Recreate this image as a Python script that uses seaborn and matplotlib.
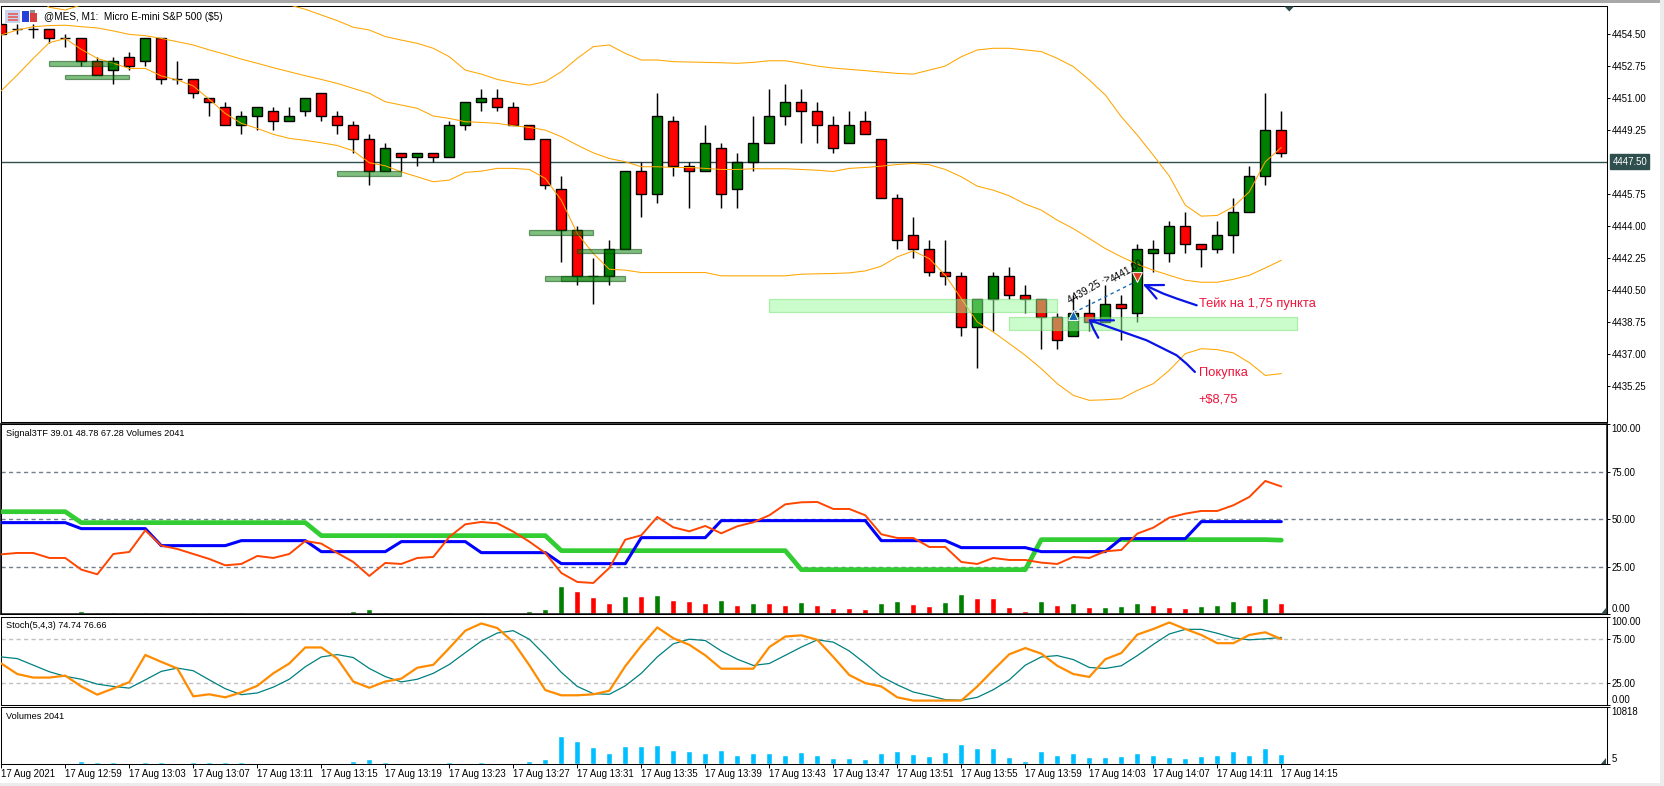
import matplotlib

matplotlib.use("Agg")

import matplotlib.pyplot as plt
import numpy as np
import seaborn as sns
from matplotlib.patches import Polygon, Rectangle

# one entry per M1 bar
OPENS = [
    4455.00, 4454.75, 4454.75, 4454.75, 4454.25, 4454.25, 4453.00, 4452.50, 4453.25, 4453.00,
    4454.25, 4452.00, 4452.00, 4451.00, 4450.50, 4449.50, 4450.00, 4450.25, 4449.75, 4450.25,
    4451.25, 4450.00, 4449.50, 4448.75, 4447.00, 4448.00, 4447.75, 4448.00, 4447.75, 4449.50,
    4450.75, 4451.00, 4450.50, 4449.50, 4448.75, 4446.00, 4443.75, 4441.25, 4441.25, 4442.75,
    4447.00, 4445.75, 4449.75, 4447.25, 4447.00, 4448.25, 4446.00, 4447.50, 4448.50, 4450.00,
    4450.75, 4450.25, 4449.50, 4448.50, 4449.75, 4448.75, 4445.50, 4443.50, 4442.75, 4441.50,
    4441.25, 4438.50, 4440.00, 4441.25, 4440.25, 4440.00, 4439.00, 4438.00, 4439.25, 4438.75,
    4439.75, 4439.25, 4442.50, 4442.50, 4444.00, 4443.00, 4442.75, 4443.50, 4444.75, 4446.75,
    4449.25,
]
HIGHS = [
    4455.00, 4455.00, 4455.00, 4454.75, 4454.50, 4454.25, 4453.25, 4453.25, 4453.50, 4454.25,
    4454.25, 4453.00, 4452.00, 4451.00, 4450.75, 4450.25, 4450.50, 4450.50, 4450.50, 4451.00,
    4451.25, 4450.25, 4449.75, 4449.00, 4448.50, 4448.00, 4448.00, 4448.00, 4449.75, 4450.75,
    4451.50, 4451.50, 4450.75, 4449.50, 4448.75, 4446.75, 4444.00, 4442.25, 4443.25, 4447.00,
    4447.50, 4451.25, 4450.00, 4447.50, 4449.50, 4448.50, 4448.00, 4450.00, 4451.50, 4451.75,
    4451.50, 4450.75, 4450.00, 4450.25, 4450.25, 4448.75, 4445.75, 4444.50, 4443.25, 4443.25,
    4441.50, 4440.00, 4441.50, 4441.75, 4440.75, 4440.00, 4439.25, 4440.25, 4440.00, 4440.75,
    4440.25, 4443.00, 4443.25, 4444.25, 4444.75, 4443.00, 4444.25, 4445.50, 4447.25, 4451.25,
    4450.25,
]
LOWS = [
    4454.50, 4454.50, 4454.25, 4454.00, 4453.75, 4452.75, 4452.25, 4451.75, 4452.50, 4452.75,
    4451.75, 4451.75, 4451.00, 4450.00, 4449.50, 4449.00, 4449.25, 4449.25, 4449.75, 4450.00,
    4449.75, 4449.00, 4448.00, 4446.25, 4447.00, 4447.00, 4447.25, 4447.50, 4447.75, 4449.25,
    4450.25, 4450.25, 4449.50, 4448.75, 4446.00, 4442.00, 4440.75, 4439.75, 4440.75, 4442.75,
    4444.50, 4445.25, 4446.75, 4445.00, 4447.00, 4445.00, 4445.00, 4447.00, 4448.50, 4449.50,
    4448.50, 4448.50, 4448.00, 4448.50, 4449.00, 4445.50, 4442.75, 4442.25, 4441.25, 4440.75,
    4438.00, 4436.25, 4438.25, 4440.00, 4439.25, 4437.25, 4437.25, 4438.00, 4438.25, 4438.75,
    4437.75, 4438.75, 4441.50, 4442.00, 4442.50, 4441.75, 4442.50, 4442.50, 4444.75, 4446.25,
    4447.75,
]
CLOSES = [
    4454.50, 4454.75, 4454.75, 4454.25, 4454.25, 4453.00, 4452.25, 4453.00, 4452.75, 4454.25,
    4452.00, 4452.00, 4451.25, 4450.75, 4449.50, 4450.00, 4450.50, 4449.75, 4450.00, 4451.00,
    4450.00, 4449.50, 4448.75, 4447.00, 4448.25, 4447.75, 4448.00, 4447.75, 4449.50, 4450.75,
    4451.00, 4450.50, 4449.50, 4448.75, 4446.25, 4443.75, 4441.25, 4441.25, 4442.75, 4447.00,
    4445.75, 4450.00, 4447.25, 4447.00, 4448.50, 4445.75, 4447.50, 4448.50, 4450.00, 4450.75,
    4450.25, 4449.50, 4448.25, 4449.50, 4449.00, 4445.50, 4443.25, 4442.75, 4441.50, 4441.25,
    4438.50, 4440.00, 4441.25, 4440.25, 4440.00, 4439.00, 4437.75, 4439.25, 4438.75, 4439.75,
    4439.50, 4442.75, 4442.75, 4444.00, 4443.00, 4442.75, 4443.50, 4444.75, 4446.75, 4449.25,
    4448.00,
]

BAND_UPPER = [
    4458.00, 4457.30, 4456.60, 4455.94, 4455.79, 4456.07, 4456.50, 4456.90, 4457.10, 4457.20,
    4457.30, 4457.40, 4457.40, 4457.30, 4457.20, 4457.00, 4456.80, 4456.50, 4456.07, 4455.83,
    4455.52, 4455.21, 4454.85, 4454.70, 4454.34, 4454.15, 4453.97, 4453.70, 4453.24, 4452.51,
    4452.29, 4452.00, 4451.82, 4451.69, 4451.88, 4452.42, 4453.15, 4453.79, 4453.88, 4453.42,
    4453.06, 4453.06, 4452.97, 4452.95, 4452.93, 4452.91, 4452.88, 4452.93, 4453.02, 4453.02,
    4452.88, 4452.73, 4452.62, 4452.55, 4452.48, 4452.40, 4452.33, 4452.29, 4452.51, 4452.73,
    4453.24, 4453.61, 4453.70, 4453.70, 4453.61, 4453.52, 4453.15, 4452.70, 4451.97, 4451.15,
    4449.96, 4448.96, 4447.86, 4446.72, 4445.13, 4444.53, 4444.57, 4445.04, 4445.86, 4447.50,
    4448.28,
]
BAND_MIDDLE = [
    4454.43, 4454.70, 4454.88, 4454.94, 4454.96, 4454.88, 4454.81, 4454.65, 4454.46, 4454.39,
    4454.24, 4454.06, 4453.88, 4453.61, 4453.37, 4453.11, 4452.88, 4452.64, 4452.42, 4452.20,
    4452.00, 4451.78, 4451.51, 4451.24, 4450.78, 4450.60, 4450.42, 4450.00, 4449.87, 4449.69,
    4449.65, 4449.60, 4449.47, 4449.38, 4449.23, 4448.87, 4448.41, 4447.99, 4447.68, 4447.50,
    4447.23, 4447.23, 4447.19, 4447.19, 4447.14, 4447.08, 4447.08, 4447.12, 4447.12, 4447.12,
    4447.08, 4447.04, 4446.97, 4447.14, 4447.19, 4447.26, 4447.35, 4447.41, 4447.34, 4447.08,
    4446.68, 4446.17, 4445.95, 4445.64, 4445.19, 4444.86, 4444.31, 4443.85, 4443.31, 4442.76,
    4442.31, 4441.90, 4441.58, 4441.30, 4441.03, 4440.92, 4440.92, 4441.08, 4441.30, 4441.70,
    4442.12,
]
BAND_LOWER = [
    4451.38, 4452.24, 4453.15, 4454.01, 4454.23, 4453.64, 4453.15, 4452.88, 4452.60, 4452.60,
    4452.19, 4451.97, 4451.64, 4450.91, 4450.14, 4449.60, 4449.32, 4449.00, 4448.78, 4448.67,
    4448.54, 4448.39, 4448.10, 4447.45, 4447.28, 4446.95, 4446.68, 4446.41, 4446.50, 4446.92,
    4446.99, 4447.14, 4447.14, 4447.08, 4446.59, 4445.40, 4443.58, 4442.49, 4441.63, 4441.58,
    4441.45, 4441.45, 4441.45, 4441.45, 4441.45, 4441.27, 4441.27, 4441.27, 4441.27, 4441.27,
    4441.36, 4441.38, 4441.40, 4441.43, 4441.54, 4441.80, 4442.31, 4442.63, 4442.21, 4441.30,
    4440.03, 4438.75, 4438.20, 4437.57, 4436.93, 4436.20, 4435.38, 4434.74, 4434.47, 4434.50,
    4434.56, 4435.01, 4435.38, 4436.11, 4437.02, 4437.29, 4437.24, 4437.06, 4436.53, 4435.83,
    4435.93,
]

SIGNAL_SLOW = [54.0] * 5 + [48.25] * 15 + [41.4] * 15 + [33.5] * 15 + [23.5] * 15 + [39.3] * 15 + [39.01]
SIGNAL_MID = (
    [48.25] * 5 + [45.09] * 5 + [36.14] * 5 + [38.77] * 5 + [32.98] * 5 + [38.25] * 5 + [32.46] * 5
    + [26.67] * 5 + [40.35] * 5 + [49.3] * 10 + [38.77] * 5 + [35.09] * 5 + [32.98] * 5 + [39.82] * 5
    + [48.78] * 6
)
SIGNAL_FAST = [
    31.58, 32.28, 32.28, 29.65, 29.65, 23.51, 21.05, 31.75, 32.81, 44.21,
    36.14, 34.39, 31.75, 29.12, 25.79, 26.49, 30.70, 29.65, 31.75, 38.60,
    37.19, 32.28, 27.54, 20.18, 27.02, 26.49, 29.65, 30.18, 40.70, 47.37,
    48.60, 47.89, 43.51, 38.25, 32.28, 21.75, 17.02, 16.49, 24.39, 39.30,
    41.58, 51.23, 45.79, 43.68, 46.49, 42.63, 46.32, 48.42, 52.11, 57.89,
    58.95, 59.12, 55.44, 55.44, 52.11, 42.11, 40.18, 40.18, 35.44, 35.44,
    27.54, 26.49, 29.65, 28.60, 28.60, 27.19, 26.49, 30.18, 29.65, 33.16,
    33.86, 42.46, 45.61, 50.88, 52.98, 54.39, 54.39, 57.37, 61.75, 70.18,
    67.28,
]

STOCH_MAIN = [
    47.2, 35.3, 31.3, 31.3, 33.5, 21.3, 12.0, 19.0, 26.1, 56.8,
    49.0, 41.6, 10.1, 12.4, 9.0, 14.6, 22.0, 36.1, 47.2, 65.3,
    65.3, 52.7, 26.8, 19.8, 26.8, 30.1, 42.4, 45.7, 64.6, 84.2,
    92.4, 87.2, 71.3, 45.3, 17.2, 11.3, 11.3, 12.4, 16.4, 44.2,
    67.2, 87.9, 75.7, 68.3, 56.4, 41.3, 41.3, 41.3, 65.7, 77.6,
    79.0, 73.9, 54.6, 34.2, 25.0, 21.3, 9.0, 5.3, 5.3, 5.3,
    5.3, 21.3, 39.8, 57.6, 64.6, 58.3, 44.6, 35.3, 32.0, 52.0,
    59.0, 79.8, 86.1, 93.5, 86.1, 79.4, 70.1, 70.1, 79.4, 82.4,
    74.74,
]
STOCH_SIGNAL = [
    54.6, 52.7, 45.3, 37.9, 32.7, 29.4, 23.9, 21.3, 19.4, 28.7,
    38.3, 42.0, 39.0, 28.7, 18.7, 12.0, 13.9, 20.5, 29.4, 43.5,
    54.6, 57.2, 53.9, 41.6, 32.4, 26.4, 29.4, 36.1, 46.1, 59.4,
    72.4, 81.6, 84.2, 74.6, 56.4, 37.2, 21.3, 13.1, 12.4, 22.0,
    36.1, 54.6, 69.4, 74.6, 73.1, 61.3, 52.0, 45.0, 47.2, 56.4,
    65.7, 73.9, 71.3, 61.3, 47.2, 32.4, 23.1, 15.0, 10.9, 6.4,
    5.7, 9.0, 17.6, 28.7, 45.3, 54.6, 56.1, 51.6, 42.7, 41.6,
    44.6, 56.1, 68.7, 80.5, 85.7, 85.7, 81.3, 76.1, 73.9, 75.0,
    76.66,
]

VOLUMES = [
    190, 190, 100, 190, 190, 570, 380, 380, 190, 380,
    380, 190, 380, 380, 380, 380, 190, 190, 190, 190,
    190, 190, 570, 940, 380, 190, 190, 190, 380, 190,
    380, 190, 190, 570, 940, 5280, 4340, 3210, 2080, 3400,
    3400, 3590, 2640, 2450, 2080, 2640, 1700, 2080, 2080, 1700,
    2260, 1700, 1130, 1130, 940, 2080, 2450, 1890, 1510, 2260,
    3770, 3020, 3020, 1320, 570, 2450, 1700, 2080, 1320, 1320,
    1510, 2080, 1700, 1320, 1130, 1510, 1700, 2450, 1700, 3020,
    2041,
]
VOLUME_DIRECTION = list(
    "ggrggg" "rgrggrggrgrgrggggg" "rrrrgrgrrgggrrrgrgrrrgrgrrgrrrrggrrggrrrrgrgrgggrrrgggrgr"
)

PRICE_TICKS = [4454.50, 4452.75, 4451.00, 4449.25, 4445.75, 4444.00, 4442.25, 4440.50, 4438.75, 4437.00, 4435.25]
LAST_PRICE = 4447.50
TIME_TICKS = list(range(0, 84, 4))
TIME_LABELS = [
    "17 Aug 2021", "17 Aug 12:59", "17 Aug 13:03", "17 Aug 13:07", "17 Aug 13:11", "17 Aug 13:15",
    "17 Aug 13:19", "17 Aug 13:23", "17 Aug 13:27", "17 Aug 13:31", "17 Aug 13:35", "17 Aug 13:39",
    "17 Aug 13:43", "17 Aug 13:47", "17 Aug 13:51", "17 Aug 13:55", "17 Aug 13:59", "17 Aug 14:03",
    "17 Aug 14:07", "17 Aug 14:11", "17 Aug 14:15",
]

# (first bar, last bar, low, high)
ORDER_BLOCKS = [
    (3, 7, 4452.75, 4453.00),
    (4, 8, 4452.00, 4452.25),
    (21, 25, 4446.75, 4447.00),
    (33, 37, 4443.50, 4443.75),
    (36, 40, 4442.50, 4442.75),
    (34, 38, 4441.00, 4441.25),
    (35, 39, 4441.00, 4441.25),
]
ZONES = [(48, 66, 4439.30, 4440.00), (63, 81, 4438.33, 4439.00)]

# hand drawn arrows from the screenshot
TAKE_ARROW = ([74.71, 73.46, 72.62, 71.48], [4439.66, 4440.03, 4440.30, 4440.76])
TAKE_BARBS = ([72.67, 71.48, 71.85, 72.20], [4440.77, 4440.76, 4440.40, 4440.03])
BUY_ARROW = ([74.60, 74.08, 73.46, 71.58, 68.04], [4436.02, 4436.47, 4436.93, 4437.75, 4438.84])
BUY_BARBS = ([69.54, 68.04, 68.25, 68.56], [4438.84, 4438.84, 4438.39, 4437.89])

sns.set_theme(style="white")
plt.rcParams["font.family"] = ["Liberation Sans", "DejaVu Sans"]

WIDTH, HEIGHT = 1665, 786
TEXT_SIZE = 6.9
UP, DOWN = "#008000", "#ff0000"
SLATE = "#2f4f4f"
bars = np.arange(len(OPENS))
x_limits = ((1.5 - 1.3) / 16, (1606.7 - 1.3) / 16)

fig = plt.figure(figsize=(WIDTH / 100, HEIGHT / 100), dpi=100, facecolor="white")


def pane(top, bottom):
    ax = fig.add_axes([1.5 / WIDTH, 1 - bottom / HEIGHT, (1606.7 - 1.5) / WIDTH, (bottom - top) / HEIGHT])
    ax.set_facecolor("white")
    for spine in ax.spines.values():
        spine.set_color("black")
        spine.set_linewidth(0.75)
    right_ticks(ax)
    ax.tick_params(axis="x", length=0, labelbottom=False)
    return ax


def right_ticks(ax):
    ax.yaxis.tick_right()
    ax.tick_params(axis="y", length=2.4, width=0.7, pad=0.9, labelsize=TEXT_SIZE, colors="black", left=False, right=True)


def finish(ax, ylim):
    ax.set_xlim(*x_limits)
    ax.set_ylim(*ylim)
    ax.set_xlabel("")
    ax.set_ylabel("")


def edge_ticks(ax, ticks, labels):
    # lowest and highest label stay inside the pane
    ax.set_yticks(ticks, labels)
    tick_labels = ax.get_yticklabels()
    tick_labels[0].set_va("bottom")
    tick_labels[-1].set_va("top")


# price pane
ax_price = pane(6, 422.3)
opens, closes = np.array(OPENS), np.array(CLOSES)
body_colors = [UP if c > o else DOWN for o, c in zip(opens, closes)]
ax_price.axhline(LAST_PRICE, color=SLATE, lw=1.0, zorder=1)
ax_price.vlines(bars, LOWS, HIGHS, color="black", lw=1.05, zorder=2)
ax_price.bar(
    bars,
    np.abs(closes - opens),
    bottom=np.minimum(opens, closes),
    width=0.625,
    color=body_colors,
    edgecolor="black",
    linewidth=1.0,
    zorder=3,
)
for series in (BAND_UPPER, BAND_MIDDLE, BAND_LOWER):
    sns.lineplot(x=bars, y=series, color="#ffa500", linewidth=0.75, ax=ax_price, zorder=4)
for first, last, low, high in ORDER_BLOCKS:
    ax_price.add_patch(
        Rectangle((first, low), last - first, high - low, facecolor="#008000", alpha=0.5, edgecolor="#004000", lw=0.9, zorder=5)
    )
for first, last, low, high in ZONES:
    ax_price.add_patch(
        Rectangle((first, low), last - first, high - low, facecolor="#98fb98", alpha=0.5, edgecolor="#70e070", lw=0.9, zorder=5)
    )

# the trade
ax_price.plot([67, 71], [4439.25, 4441.00], color="#1e6eb4", lw=1.0, ls=(0, (2.5, 2.5)), zorder=6)
ax_price.scatter([67], [4439.12], marker="^", s=50, color="#1464b4", edgecolor="white", linewidth=0.7, zorder=7)
ax_price.scatter([71], [4441.20], marker="v", s=50, color="#e03c20", edgecolor="white", linewidth=0.7, zorder=7)
ax_price.text(66.8, 4439.72, "4439.25 ·>", fontsize=7.2, rotation=30, rotation_mode="anchor", color="black", zorder=8)
ax_price.text(69.46, 4440.87, "4441.00", fontsize=7.2, rotation=30, rotation_mode="anchor", color="black", zorder=8)
for xs, ys in (TAKE_ARROW, TAKE_BARBS, BUY_ARROW, BUY_BARBS):
    ax_price.plot(xs, ys, color="#0a14e6", lw=1.6, solid_capstyle="round", zorder=9)
ax_price.text(74.84, 4439.72, "Тейк на 1,75 пункта", fontsize=9.3, color="#f0143c", va="center", zorder=9)
ax_price.text(74.84, 4435.95, "Покупка", fontsize=9.3, color="#f0143c", va="center", zorder=9)
ax_price.text(74.84, 4434.53, "+$8,75", fontsize=9.3, color="#f0143c", va="center", zorder=9)

finish(ax_price, (4433.27, 4456.01))
ax_price.set_yticks(PRICE_TICKS, [f"{v:.2f}" for v in PRICE_TICKS])
ax_price.annotate(
    f"{LAST_PRICE:.2f}",
    xy=(1.0, LAST_PRICE),
    xycoords=ax_price.get_yaxis_transform(),
    xytext=(4.0, 0),
    textcoords="offset points",
    fontsize=TEXT_SIZE,
    color="white",
    va="center",
    bbox=dict(boxstyle="square,pad=0.25", facecolor=SLATE, edgecolor=SLATE),
    annotation_clip=False,
)
ax_price.text(
    42.7 / 1605, 1 - (16.7 - 6) / 416.3, "@MES, M1:  Micro E-mini S&P 500 ($5)",
    transform=ax_price.transAxes, fontsize=7.2, va="center", color="black",
)

# signal pane
ax_signal = pane(424.3, 614.3)
for level in (75, 50, 25):
    ax_signal.axhline(level, color="#708090", lw=1.0, ls=(0, (3, 2.4)), zorder=1)
sns.lineplot(x=bars, y=SIGNAL_SLOW, color="#32cd32", linewidth=3.4, ax=ax_signal, zorder=3)
sns.lineplot(x=bars, y=SIGNAL_MID, color="#0000ff", linewidth=2.2, ax=ax_signal, zorder=4)
sns.lineplot(x=bars, y=SIGNAL_FAST, color="#ff4500", linewidth=1.4, ax=ax_signal, zorder=5)
finish(ax_signal, (0, 100))
ax_signal.text(
    4.6 / 1605, 1 - (433.7 - 424.3) / 190, "Signal3TF 39.01 48.78 67.28 Volumes 2041",
    transform=ax_signal.transAxes, fontsize=6.6, va="center", color="black",
)

# the volumes inside the signal pane have the same pixel height as in the bottom pane
ax_signal_volume = ax_signal.twinx()
sns.barplot(
    x=bars, y=VOLUMES, hue=VOLUME_DIRECTION, palette={"g": UP, "r": DOWN}, native_scale=True,
    width=0.375, saturation=1, dodge=False, legend=False, ax=ax_signal_volume,
)
ax_signal_volume.set_xlim(*x_limits)
ax_signal_volume.set_ylim(0, 190 * 188.7)
ax_signal_volume.set_ylabel("")
ax_signal_volume.tick_params(right=False, labelright=False)
ax_signal_volume.grid(False)
ax_signal.set_zorder(ax_signal_volume.get_zorder() + 1)
ax_signal.patch.set_visible(False)
# twinx moves the host ticks to the left
right_ticks(ax_signal)
edge_ticks(ax_signal, [0, 25, 50, 75, 100], ["0.00", "25.00", "50.00", "75.00", "100.00"])

# stochastic pane
ax_stoch = pane(616.7, 705.3)
for level in (75, 25):
    ax_stoch.axhline(level, color="#c0c0c0", lw=1.0, ls=(0, (3, 2.4)), zorder=1)
sns.lineplot(x=bars, y=STOCH_SIGNAL, color="#008080", linewidth=0.9, ax=ax_stoch, zorder=3)
sns.lineplot(x=bars, y=STOCH_MAIN, color="#ff8c00", linewidth=1.6, ax=ax_stoch, zorder=4)
finish(ax_stoch, (0, 100))
edge_ticks(ax_stoch, [0, 25, 75, 100], ["0.00", "25.00", "75.00", "100.00"])
ax_stoch.text(
    4.6 / 1605, 1 - (625.7 - 616.7) / 88.6, "Stoch(5,4,3) 74.74 76.66",
    transform=ax_stoch.transAxes, fontsize=6.6, va="center", color="black",
)

# volume pane
ax_volume = pane(707.2, 764.3)
sns.barplot(
    x=bars, y=VOLUMES, color="#00bfff", native_scale=True, width=0.375, saturation=1, ax=ax_volume,
)
finish(ax_volume, (5, 10818))
edge_ticks(ax_volume, [5, 10818], ["5", "10818"])
ax_volume.set_xticks(TIME_TICKS, TIME_LABELS)
ax_volume.tick_params(axis="x", length=3.0, width=0.7, pad=0.5, labelsize=TEXT_SIZE, labelbottom=True, bottom=True, colors="black")
for label in ax_volume.get_xticklabels():
    label.set_ha("left")
ax_volume.text(
    4.6 / 1605, 1 - (716.7 - 707.2) / 57.1, "Volumes 2041",
    transform=ax_volume.transAxes, fontsize=6.6, va="center", color="black",
)


# terminal chrome, in figure pixels
def px_rect(x0, y0, x1, y1, color):
    fig.add_artist(
        Rectangle((x0 / WIDTH, 1 - y1 / HEIGHT), (x1 - x0) / WIDTH, (y1 - y0) / HEIGHT,
                  facecolor=color, edgecolor="none", transform=fig.transFigure, zorder=10)
    )


def px_triangle(points):
    fig.add_artist(
        Polygon([(x / WIDTH, 1 - y / HEIGHT) for x, y in points], closed=True,
                facecolor=SLATE, edgecolor="none", transform=fig.transFigure, zorder=10)
    )


px_rect(0, 0, WIDTH, 2.5, "#a8a8a8")
px_rect(1660, 0, WIDTH, HEIGHT, "#ececec")
px_rect(0, 783, WIDTH, HEIGHT, "#ececec")
px_triangle([(1284.5, 6.5), (1294, 6.5), (1289.3, 11.5)])
px_triangle([(1601, 614), (1606.5, 614), (1606.5, 608)])
px_triangle([(1601, 764), (1606.5, 764), (1606.5, 758)])
# chart window icons
px_rect(5.5, 10, 20, 22.5, "#c8d4f0")
for y in (13, 16, 19):
    px_rect(8, y, 18, y + 1.5, "#e07070")
px_rect(22, 11, 29, 22, "#2840d8")
px_rect(30, 13, 37, 22, "#d84040")
px_rect(30, 10, 35, 13, "#909090")

fig.savefig("out.png", dpi=100, facecolor="white")
plt.close(fig)
